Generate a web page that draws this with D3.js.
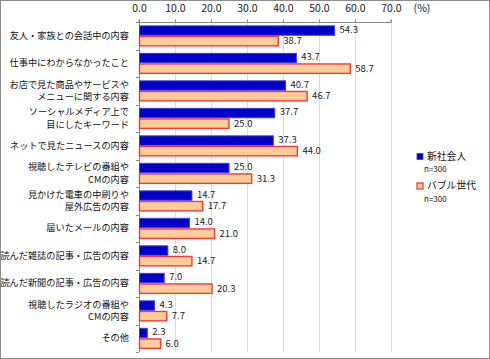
<!DOCTYPE html>
<html><head><meta charset="utf-8">
<script src="https://cdn.jsdelivr.net/npm/d3@7"></script>
<style>
html,body{margin:0;padding:0;background:#fff;}
svg{display:block;font-family:"Noto Sans CJK JP","Noto Sans",sans-serif;}
</style></head>
<body><svg id="c" width="490" height="359"></svg>
<script>
const categories = [
  ["友人・家族との会話中の内容"],
  ["仕事中にわからなかったこと"],
  ["お店で見た商品やサービスや","メニューに関する内容"],
  ["ソーシャルメディア上で","目にしたキーワード"],
  ["ネットで見たニュースの内容"],
  ["視聴したテレビの番組や","CMの内容"],
  ["見かけた電車の中刷りや","屋外広告の内容"],
  ["届いたメールの内容"],
  ["読んだ雑誌の記事・広告の内容"],
  ["読んだ新聞の記事・広告の内容"],
  ["視聴したラジオの番組や","CMの内容"],
  ["その他"]
];
const seriesNames = ["新社会人", "バブル世代"];
const seriesN = ["n=300", "n=300"];
const shinshakaijin = [54.3, 43.7, 40.7, 37.7, 37.3, 25.0, 14.7, 14.0, 8.0, 7.0, 4.3, 2.3];
const bubble = [38.7, 58.7, 46.7, 25.0, 44.0, 31.3, 17.7, 21.0, 14.7, 20.3, 7.7, 6.0];
const xTicks = [0, 10, 20, 30, 40, 50, 60, 70];

(function(){
const svg = d3.select("#c");
const W = 490, H = 359;
svg.append("rect").attr("x",0.5).attr("y",0.5).attr("width",W-1).attr("height",H-1)
  .attr("fill","#fff").attr("stroke","#8c8c8c");

const pL = 139, pR = 391, pT = 22, pB = 352;
const x = d3.scaleLinear().domain([0,70]).range([pL,pR]);
const idx = d3.range(categories.length);
const y = d3.scaleBand().domain(idx).range([pT,pB]).paddingInner(0).paddingOuter(0);
const bandH = y.bandwidth();
const barH = 10.4;
const groupOff = (bandH - 2*barH)/2;

// gridlines
svg.append("g").selectAll("line").data(xTicks.slice(1)).join("line")
  .attr("x1",d=>x(d)+0.5).attr("x2",d=>x(d)+0.5).attr("y1",pT).attr("y2",pB)
  .attr("stroke","#dcdcdc").attr("stroke-width",1);

// top axis
const xAxis = d3.axisTop(x).tickValues(xTicks).tickFormat(d3.format(".1f")).tickSize(3).tickPadding(8);
const gx = svg.append("g").attr("transform",`translate(0,${pT+0.5})`).call(xAxis);
gx.select(".domain").attr("stroke","#888").attr("d",`M${pL},-3V0H${pR}V-3`);
gx.selectAll(".tick line").attr("stroke","#888");
gx.selectAll(".tick text").attr("font-size",10.5).attr("fill","#222")
  .attr("font-family","'Noto Sans CJK JP',sans-serif");
svg.append("text").attr("x",422).attr("y",12).attr("text-anchor","middle")
  .attr("font-size",10.5).attr("fill","#222").text("(%)");

// left axis
svg.append("line").attr("x1",pL+0.5).attr("x2",pL+0.5).attr("y1",pT).attr("y2",pB)
  .attr("stroke","#888");
svg.append("g").selectAll("line").data(d3.range(categories.length+1)).join("line")
  .attr("x1",pL-3).attr("x2",pL).attr("y1",d=>Math.round(pT+d*bandH)+0.5).attr("y2",d=>Math.round(pT+d*bandH)+0.5)
  .attr("stroke","#888");

// category labels
const lab = svg.append("g");
categories.forEach((lines,i)=>{
  const cy = y(i)+bandH/2;
  const n = lines.length;
  lines.forEach((t,j)=>{
    lab.append("text").attr("x",129).attr("y",cy + (j-(n-1)/2)*12.8)
      .attr("dy","0.35em").attr("text-anchor","end").attr("font-size",9.2)
      .attr("fill","#111").text(t);
  });
});

// bars
const series = [
  {vals: shinshakaijin, fill:"#0000c8", stroke:"#3a3ae0", sw:1},
  {vals: bubble, fill:"#fecc9a", stroke:"#f23a3a", sw:1.4}
];
series.forEach((s,k)=>{
  const g = svg.append("g");
  g.selectAll("rect").data(s.vals).join("rect")
    .attr("x",x(0)+0.5)
    .attr("y",(d,i)=>y(i)+groupOff+k*barH+ (k?0.7:0.5))
    .attr("width",d=>x(d)-x(0)-0.5)
    .attr("height",barH-1)
    .attr("fill",s.fill).attr("stroke",s.stroke).attr("stroke-width",s.sw);
  g.selectAll("text").data(s.vals).join("text")
    .attr("x",d=>x(d)+5)
    .attr("y",(d,i)=>y(i)+groupOff+k*barH+barH/2 - (k?0:1))
    .attr("dy","0.35em").attr("font-size",9.5).attr("fill","#222")
    .text(d=>d.toFixed(1));
});

// legend
const leg = svg.append("g");
const legY = [156.5, 186];
series.forEach((s,k)=>{
  leg.append("rect").attr("x",417).attr("y",legY[k]-3).attr("width",6).attr("height",6)
    .attr("fill",s.fill).attr("stroke",s.stroke).attr("stroke-width",k?1.3:0.8);
  leg.append("text").attr("x",427).attr("y",legY[k]).attr("dy","0.35em")
    .attr("font-size",9.8).attr("fill","#111").text(seriesNames[k]);
  leg.append("text").attr("x",424).attr("y",legY[k]+13).attr("dy","0.35em")
    .attr("font-size",8).attr("fill","#111").text(seriesN[k]);
});
})();
</script></body></html>
